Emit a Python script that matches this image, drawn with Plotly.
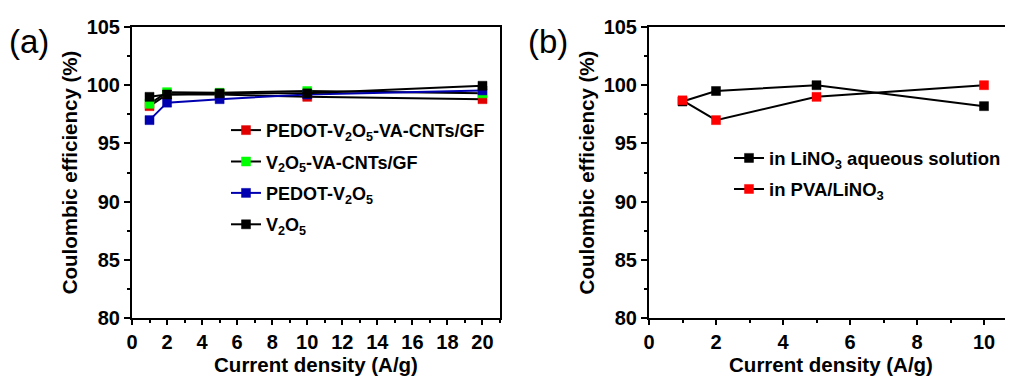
import plotly.graph_objects as go

# ---------------- data ----------------
x_a = [1, 2, 5, 10, 20]
pedot_v2o5_cnt_gf = [98.2, 99.2, 99.2, 99.0, 98.8]
v2o5_cnt_gf = [98.4, 99.4, 99.35, 99.5, 99.3]
pedot_v2o5 = [97.0, 98.5, 98.8, 99.2, 99.55]
v2o5 = [99.0, 99.2, 99.3, 99.3, 99.95]

x_b = [1, 2, 5, 10]
lino3_aq = [98.6, 99.5, 100.0, 98.2]
pva_lino3 = [98.7, 97.0, 99.0, 100.0]

names_a = ["PEDOT-V<sub>2</sub>O<sub>5</sub>-VA-CNTs/GF",
           "V<sub>2</sub>O<sub>5</sub>-VA-CNTs/GF",
           "PEDOT-V<sub>2</sub>O<sub>5</sub>",
           "V<sub>2</sub>O<sub>5</sub>"]
names_b = ["in LiNO<sub>3</sub> aqueous solution",
           "in PVA/LiNO<sub>3</sub>"]

FONT = "Liberation Sans, Arial, sans-serif"
OFF = 8  # page body margin offset
W, H = 1013, 379
L, R = 132 - OFF, OFF
T = 21.5 - OFF
B = H - (318 - OFF)

fig = go.Figure()

def add(x, y, name, mcolor, lcolor, xa, ya, legend):
    fig.add_trace(go.Scatter(
        x=x, y=y, name=name, mode="lines+markers",
        line=dict(color=lcolor, width=2),
        marker=dict(symbol="square", size=9, color=mcolor,
                    line=dict(width=0.5, color=mcolor)),
        xaxis=xa, yaxis=ya, legend=legend, legendgroup=name))

add(x_a, pedot_v2o5_cnt_gf, names_a[0], "#e00000", "black", "x", "y", "legend")
add(x_a, v2o5_cnt_gf, names_a[1], "#00ff00", "black", "x", "y", "legend")
add(x_a, pedot_v2o5, names_a[2], "#0000b0", "#0000b0", "x", "y", "legend")
add(x_a, v2o5, names_a[3], "black", "black", "x", "y", "legend")

add(x_b, lino3_aq, names_b[0], "black", "black", "x2", "y2", "legend2")
add(x_b, pva_lino3, names_b[1], "#ff0000", "black", "x2", "y2", "legend2")

pw = W - L - R
ph = H - T - B
def px(sx):  # screen x -> paper
    return (sx - OFF - L) / pw
def py(sy):  # screen y -> paper
    return (H - B - (sy - OFF)) / ph

tickfont = dict(family=FONT, size=20, color="black", weight="bold")
titlefont = dict(family=FONT, size=20.5, color="black", weight="bold")

common_x = dict(showline=True, linecolor="black", linewidth=2, ticks="outside",
                ticklen=5, tickwidth=2, tickcolor="black", tickfont=tickfont,
                showgrid=False, zeroline=False, dtick=2, tick0=0,
                minor=dict(ticks="outside", ticklen=3, tickwidth=2, tickcolor="black", dtick=1),
                title=dict(text="Current density (A/g)", font=titlefont, standoff=5))
common_y = dict(showline=True, linecolor="black", linewidth=2, ticks="outside",
                ticklen=6, tickwidth=2, tickcolor="black", tickfont=tickfont,
                showgrid=False, zeroline=False, range=[80, 105], dtick=5, tick0=80,
                minor=dict(ticks="outside", ticklen=3, tickwidth=2, tickcolor="black", dtick=2.5),
                title=dict(text="Coulombic efficiency (%)", font=titlefont, standoff=3))

fig.update_layout(
    width=W, height=H,
    margin=dict(l=L, r=R, t=T, b=B),
    plot_bgcolor="white", paper_bgcolor="white",
    xaxis=dict(common_x, domain=[0, px(500)], range=[0, 21], mirror=True, anchor="y"),
    yaxis=dict(common_y, mirror=True, anchor="x"),
    xaxis2=dict(common_x, domain=[px(649), 1], range=[0, (1013 - 649) / 33.5],
                mirror=True, anchor="y2"),
    yaxis2=dict(common_y, mirror=False, anchor="x2"),
    legend=dict(x=px(226), y=py(108), xanchor="left", yanchor="top",
                bgcolor="rgba(0,0,0,0)", tracegroupgap=5,
                font=dict(family=FONT, size=18, color="black", weight="bold")),
    legend2=dict(x=px(729), y=py(136), xanchor="left", yanchor="top",
                 bgcolor="rgba(0,0,0,0)", tracegroupgap=4,
                 font=dict(family=FONT, size=18.5, color="black", weight="bold")),
    annotations=[
        dict(text="(a)", x=px(7), y=py(36), xref="paper", yref="paper",
             xanchor="left", yanchor="middle", showarrow=False,
             font=dict(family=FONT, size=33, color="black")),
        dict(text="(b)", x=px(526), y=py(36), xref="paper", yref="paper",
             xanchor="left", yanchor="middle", showarrow=False,
             font=dict(family=FONT, size=33, color="black")),
    ],
)

fig.write_html("out.html")
